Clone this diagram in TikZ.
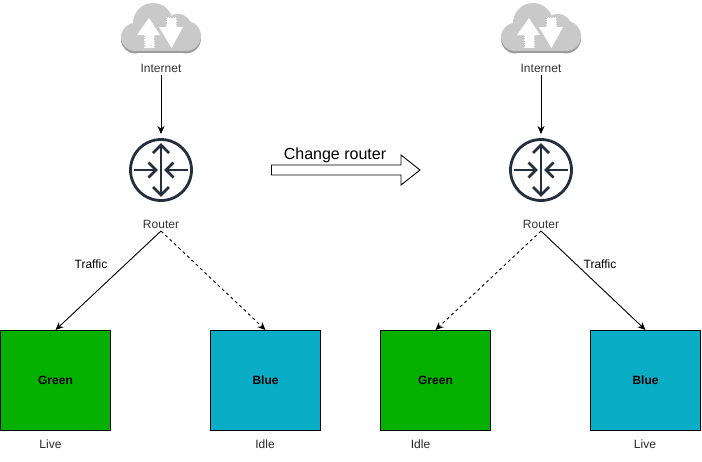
\documentclass[tikz,border=0pt]{standalone}
\usepackage{fontspec}
\setmainfont{Liberation Sans}
\usetikzlibrary{arrows.meta}
\definecolor{routerink}{HTML}{232F3E}
\definecolor{livegreen}{HTML}{05B000}
\definecolor{idleblue}{HTML}{09ADC6}
\definecolor{cloudgrey}{HTML}{C9C9C9}
\definecolor{cloudedge}{HTML}{9C9C9C}
\definecolor{labelgrey}{HTML}{333333}
\tikzset{
  x=1pt,y=-1pt,
  every node/.style={font=\fontsize{12}{14}\selectfont,inner sep=0pt,outer sep=0pt},
  caption/.style={text=labelgrey,text height=9pt,text depth=3pt},
  flow/.style={draw=black,line width=0.9pt,-{Stealth[length=8pt,width=7pt]}},
  idleflow/.style={flow,dash pattern=on 3pt off 3pt},
  envbox/.style={draw=black,line width=0.9pt,minimum width=110pt,minimum height=100pt,font=\fontsize{12}{14}\selectfont\bfseries},
  routerdisc/.style={circle,draw=routerink,line width=2.8pt,minimum size=61pt},
  routerstroke/.style={draw=routerink,line width=2.8pt},
  pics/cloud/.style={code={
    % lower rim of the cloud, then its body on top; each lobe is filled on its own
    \foreach \dy/\col in {2.4/cloudedge,0/cloudgrey}{
      \begin{scope}[shift={(0,\dy)}]
        \fill[\col] (-26,37) circle[radius=14];
        \fill[\col] (-8,23) circle[radius=20];
        \fill[\col] (17,28) circle[radius=14];
        \fill[\col] (25,36) circle[radius=15];
        \fill[\col] (-26,30) rectangle (25,51);
      \end{scope}
    }
    % upload arrow
    \fill[white] (-12,18) -- (-1,35) -- (-6.5,35) -- (-6.5,48) -- (-17,48) -- (-17,35) -- (-24,35) -- cycle;
    % download arrow
    \fill[white] (10.5,48) -- (-2,27) -- (5,27) -- (5,17) -- (15.5,17) -- (15.5,27) -- (22,27) -- cycle;
    \draw[cloudgrey,line width=0.6pt,dash pattern=on 1.2pt off 1.2pt] (-6.5,36) -- (-6.5,48) -- (-17,48) -- (-17,36);
    \draw[cloudgrey,line width=0.6pt,dash pattern=on 1.2pt off 1.2pt] (5,26) -- (5,17) -- (15.5,17) -- (15.5,26);
  }},
  pics/routerarrows/.style={code={
    \draw[routerstroke] (0,-25) -- (0,25);
    \draw[routerstroke] (-8,-17) -- (0,-25) -- (8,-17);
    \draw[routerstroke] (-8,17) -- (0,25) -- (8,17);
    \draw[routerstroke] (-27,0) -- (-5,0);
    \draw[routerstroke] (-12.5,-7.5) -- (-5,0) -- (-12.5,7.5);
    \draw[routerstroke] (27,0) -- (5,0);
    \draw[routerstroke] (12.5,-7.5) -- (5,0) -- (12.5,7.5);
  }}
}
\begin{document}
\begin{tikzpicture}
\useasboundingbox (0,0) rectangle (702,461);

% left-hand state
\pic at (161,0) {cloud};
\node[caption,anchor=base] (netA) at (161,72) {Internet};
\node[routerdisc] (routerA) at (161,170) {};
\pic at (routerA.center) {routerarrows};
\node[caption,anchor=base] (labelA) at (161,228) {Router};
\node[envbox,fill=livegreen] (greenA) at (55.5,380) {Green};
\node[envbox,fill=idleblue] (blueA) at (265.5,380) {Blue};
\node[caption,text=black!85] (liveA) at (50.5,445) {Live};
\node[caption,text=black!85] (idleA) at (265,445) {Idle};
\node[caption,text=black] (trafficA) at (91,265) {Traffic};
\draw[flow] (netA.south) -- ([yshift=5.5pt]routerA.north);
\draw[flow] (labelA.south) -- (greenA.north);
\draw[idleflow] (labelA.south) -- (blueA.north);

% switch-over arrow
\draw[black,line width=0.9pt,fill=white,line join=miter]
  (271.5,165) -- (401,165) -- (401,155) -- (420,170) -- (401,185) -- (401,175) -- (271.5,175) -- cycle;
\node[font=\fontsize{16}{18}\selectfont,text=black] (changeText) at (335,155) {Change router};

% right-hand state
\pic at (541,0) {cloud};
\node[caption,anchor=base] (netB) at (541,72) {Internet};
\node[routerdisc] (routerB) at (541,170) {};
\pic at (routerB.center) {routerarrows};
\node[caption,anchor=base] (labelB) at (541,228) {Router};
\node[envbox,fill=livegreen] (greenB) at (435.5,380) {Green};
\node[envbox,fill=idleblue] (blueB) at (645.5,380) {Blue};
\node[caption,text=black!85] (idleB) at (420.5,445) {Idle};
\node[caption,text=black!85] (liveB) at (645,445) {Live};
\node[caption,text=black] (trafficB) at (600,265) {Traffic};
\draw[flow] (netB.south) -- ([yshift=5.5pt]routerB.north);
\draw[idleflow] (labelB.south) -- (greenB.north);
\draw[flow] (labelB.south) -- (blueB.north);
\end{tikzpicture}
\end{document}
